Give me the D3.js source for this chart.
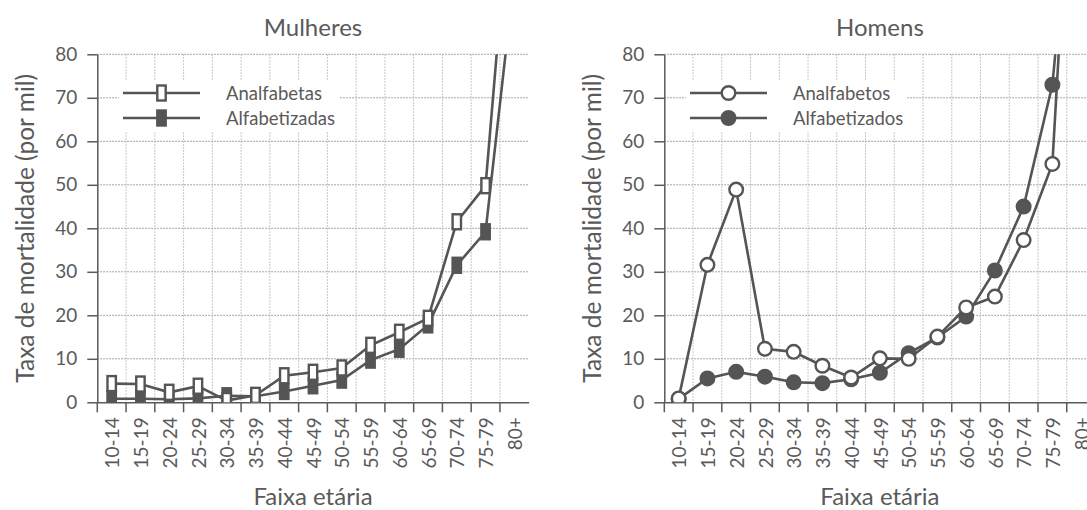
<!DOCTYPE html>
<html>
<head>
<meta charset="utf-8">
<script src="https://cdn.jsdelivr.net/npm/d3@7"></script>
<style>
  html, body { margin: 0; padding: 0; background: #fff; }
  svg { display: block; font-family: Lato, "Open Sans", sans-serif; }
</style>
</head>
<body>
<svg id="chart" width="1087" height="510"></svg>
<script>
// ---- Data ----
const categories = ["10-14","15-19","20-24","25-29","30-34","35-39","40-44","45-49","50-54","55-59","60-64","65-69","70-74","75-79","80+"];
const yTicks = [0, 10, 20, 30, 40, 50, 60, 70, 80];

const mulheresAnalfabetas   = [4.3, 4.2, 2.3, 3.7, 0.4, 1.6, 6.1, 6.9, 7.9, 13.1, 16.1, 19.3, 41.5, 49.8, 128];
const mulheresAlfabetizadas = [0.8, 0.8, 0.7, 0.9, 1.5, 1.4, 2.5, 3.8, 5.1, 9.7, 12.2, 17.8, 31.5, 39.2, 98];
const homensAnalfabetos     = [0.9, 31.6, 48.9, 12.3, 11.6, 8.4, 5.7, 10.1, 10.0, 15.1, 21.8, 24.3, 37.3, 54.8, 170];
const homensAlfabetizados   = [0.8, 5.5, 7.0, 5.9, 4.6, 4.4, 5.3, 6.8, 11.3, 14.9, 19.7, 30.3, 45.0, 73.0, 143];

const titles = ["Mulheres", "Homens"];
const legendMulheres = ["Analfabetas", "Alfabetizadas"];
const legendHomens = ["Analfabetos", "Alfabetizados"];
const yLabel = "Taxa de mortalidade (por mil)";
const xLabel = "Faixa etária";

// ---- Styles ----
const INK = "#5a5a5a";
const LINE = "#555555";

const svg = d3.select("#chart");

function drawPanel(cfg) {
  const { x0, x1, y0, y1, title, names, white, dark, shape, id } = cfg;
  const g = svg.append("g");

  const x = d3.scaleBand().domain(categories).range([x0, x1]).padding(0);
  const y = d3.scaleLinear().domain([0, 80]).range([y0, y1]);
  const cx = c => x(c) + x.bandwidth() / 2;

  // clip
  g.append("clipPath").attr("id", id).append("rect")
    .attr("x", x0).attr("y", y1).attr("width", x1 - x0).attr("height", y0 - y1);

  // gridlines
  g.append("g").selectAll("line").data(yTicks.filter(t => t > 0)).join("line")
    .attr("x1", x0).attr("x2", x1).attr("y1", d => y(d)).attr("y2", d => y(d))
    .attr("stroke", "#8a8a8a").attr("stroke-width", 1).attr("stroke-dasharray", "1.5,1.5");
  g.append("g").selectAll("line").data(categories.slice(1)).join("line")
    .attr("x1", d => x(d)).attr("x2", d => x(d)).attr("y1", y1).attr("y2", y0)
    .attr("stroke", "#b5b5b5").attr("stroke-width", 1).attr("stroke-dasharray", "1.5,1.5");

  // legend background
  g.append("rect").attr("x", cfg.legX - 4).attr("y", 80).attr("width", cfg.legW).attr("height", 52).attr("fill", "#fff");

  // axes
  const yAxis = d3.axisLeft(y).tickValues(yTicks).tickSize(10).tickSizeOuter(0).tickPadding(10);
  const ya = g.append("g").attr("transform", `translate(${x0},0)`).call(yAxis);
  ya.select(".domain").attr("stroke", INK).attr("stroke-width", 1.5);
  ya.selectAll(".tick line").attr("stroke", INK).attr("stroke-width", 1.5);
  ya.selectAll(".tick text").attr("fill", INK).attr("font-size", 19).attr("font-family", "Lato");

  const xAxis = d3.axisBottom(x).tickSize(0).tickSizeOuter(0).tickPadding(0);
  const xa = g.append("g").attr("transform", `translate(0,${y0})`).call(xAxis);
  xa.select(".domain").attr("stroke", INK).attr("stroke-width", 1.5);
  xa.selectAll(".tick line").remove();
  xa.selectAll(".tick text").attr("fill", INK).attr("font-size", 19).attr("font-family", "Lato")
    .attr("transform", "rotate(-90)").attr("text-anchor", "end")
    .attr("x", -15).attr("y", 1).attr("dy", "0.35em");
  // tick marks at band boundaries
  g.append("g").selectAll("line").data(categories).join("line")
    .attr("x1", d => x(d)).attr("x2", d => x(d)).attr("y1", y0).attr("y2", y0 + 10)
    .attr("stroke", INK).attr("stroke-width", 1.5);

  // series
  const plot = g.append("g").attr("clip-path", `url(#${id})`);
  const line = d3.line().x((d, i) => cx(categories[i])).y(d => y(d));
  [dark, white].forEach(vals => {
    plot.append("path").datum(vals).attr("d", line)
      .attr("fill", "none").attr("stroke", LINE).attr("stroke-width", 2.6);
  });
  function marker(sel, vals, filled) {
    if (shape === "rect") {
      sel.selectAll(null).data(vals).join("rect")
        .attr("x", (d, i) => cx(categories[i]) - 4.2).attr("y", d => y(d) - 7.5)
        .attr("width", 8.4).attr("height", 15)
        .attr("fill", filled ? LINE : "#fff").attr("stroke", LINE).attr("stroke-width", 2.4);
    } else {
      sel.selectAll(null).data(vals).join("circle")
        .attr("cx", (d, i) => cx(categories[i])).attr("cy", d => y(d)).attr("r", 6.8)
        .attr("fill", filled ? LINE : "#fff").attr("stroke", LINE).attr("stroke-width", 2.4);
    }
  }
  marker(plot.append("g"), dark, true);
  marker(plot.append("g"), white, false);

  // legend
  const leg = g.append("g");
  [[names[0], false, 93], [names[1], true, 118]].forEach(([name, filled, ly]) => {
    leg.append("line").attr("x1", cfg.legX).attr("x2", cfg.legX + 77).attr("y1", ly).attr("y2", ly)
      .attr("stroke", LINE).attr("stroke-width", 2.6);
    if (shape === "rect") {
      leg.append("rect").attr("x", cfg.legX + 38.5 - 4.2).attr("y", ly - 7.5).attr("width", 8.4).attr("height", 15)
        .attr("fill", filled ? LINE : "#fff").attr("stroke", LINE).attr("stroke-width", 2.4);
    } else {
      leg.append("circle").attr("cx", cfg.legX + 38.5).attr("cy", ly).attr("r", 6.8)
        .attr("fill", filled ? LINE : "#fff").attr("stroke", LINE).attr("stroke-width", 2.4);
    }
    leg.append("text").attr("x", cfg.legX + 103).attr("y", ly).attr("dy", "0.36em")
      .attr("fill", INK).attr("font-size", 18.5).text(name);
  });

  // title
  g.append("text").attr("x", (x0 + x1) / 2).attr("y", 36).attr("text-anchor", "middle")
    .attr("fill", INK).attr("font-size", 24).text(title);
  // y label
  g.append("text").attr("transform", `translate(${cfg.yLabX},${(y0 + y1) / 2}) rotate(-90)`)
    .attr("text-anchor", "middle").attr("dy", "0.35em")
    .attr("fill", INK).attr("font-size", 24.5).text(yLabel);
  // x label
  g.append("text").attr("x", (x0 + x1) / 2).attr("y", 505).attr("text-anchor", "middle")
    .attr("fill", INK).attr("font-size", 24).text(xLabel);
}

drawPanel({ id: "clipL", x0: 97.3, x1: 528.7, y0: 402.3, y1: 54.3, title: titles[0], names: legendMulheres,
  white: mulheresAnalfabetas, dark: mulheresAlfabetizadas, shape: "rect", legX: 123, legW: 220, yLabX: 25 });
drawPanel({ id: "clipR", x0: 664.3, x1: 1095.5, y0: 402.3, y1: 54.3, title: titles[1], names: legendHomens,
  white: homensAnalfabetos, dark: homensAlfabetizados, shape: "circle", legX: 690, legW: 220, yLabX: 592 });
</script>
</body>
</html>
